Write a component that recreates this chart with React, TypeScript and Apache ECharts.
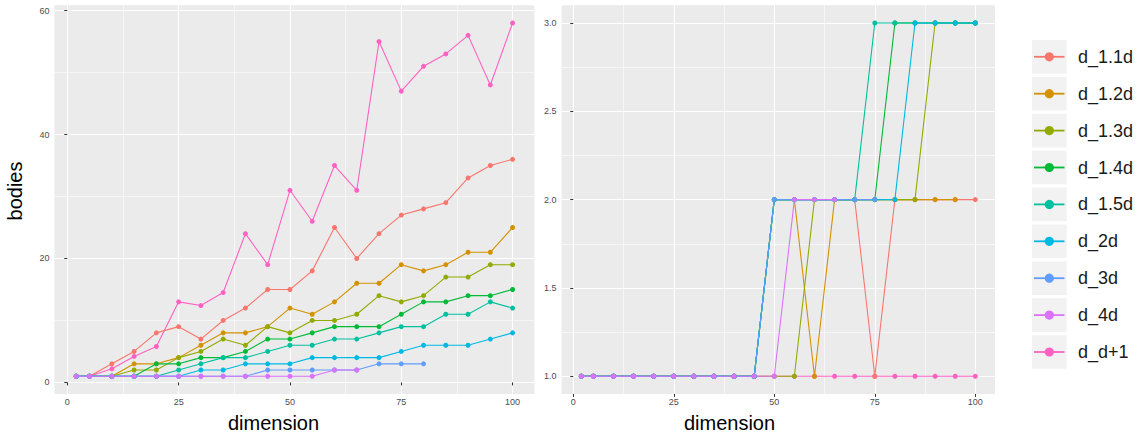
import React, { useEffect, useRef } from "react";
import * as echarts from "echarts";

// ---------- data ----------
const dimensions = [2, 5, 10, 15, 20, 25, 30, 35, 40, 45, 50, 55, 60, 65, 70, 75, 80, 85, 90, 95, 100];

const seriesNames = ["d_1.1d", "d_1.2d", "d_1.3d", "d_1.4d", "d_1.5d", "d_2d", "d_3d", "d_4d", "d_d+1"];
const seriesColors = ["#F8766D", "#D39200", "#93AA00", "#00BA38", "#00C19F", "#00B9E3", "#619CFF", "#DB72FB", "#FF61C3"];

// left panel: bodies
const d11Left = [1, 1, 3, 5, 8, 9, 7, 10, 12, 15, 15, 18, 25, 20, 24, 27, 28, 29, 33, 35, 36];
const d12Left = [1, 1, 1, 3, 3, 4, 6, 8, 8, 9, 12, 11, 13, 16, 16, 19, 18, 19, 21, 21, 25];
const d13Left = [1, 1, 1, 2, 2, 4, 5, 7, 6, 9, 8, 10, 10, 11, 14, 13, 14, 17, 17, 19, 19];
const d14Left = [1, 1, 1, 1, 3, 3, 4, 4, 5, 7, 7, 8, 9, 9, 9, 11, 13, 13, 14, 14, 15];
const d15Left = [1, 1, 1, 1, 1, 2, 3, 4, 4, 5, 6, 6, 7, 7, 8, 9, 9, 11, 11, 13, 12];
const d2Left = [1, 1, 1, 1, 1, 1, 2, 2, 3, 3, 3, 4, 4, 4, 4, 5, 6, 6, 6, 7, 8];
const d3Left = [1, 1, 1, 1, 1, 1, 1, 1, 1, 2, 2, 2, 2, 2, 3, 3, 3, null, null, null, null];
const d4Left = [1, 1, 1, 1, 1, 1, 1, 1, 1, 1, 1, 1, 2, 2, null, null, null, null, null, null, null];
const ddLeft = [1, 1, 2.2, 4.2, 5.8, 13, 12.4, 14.5, 24, 19, 31, 26, 35, 31, 55, 47, 51, 53, 56, 48, 58];

// right panel
const d11Right = [1, 1, 1, 1, 1, 1, 1, 1, 1, 1, 2, 2, 2, 2, 2, 1, 2, 2, 2, 2, 2];
const d12Right = [1, 1, 1, 1, 1, 1, 1, 1, 1, 1, 2, 2, 1, 2, 2, 2, 2, 2, 2, 2, null];
const d13Right = [1, 1, 1, 1, 1, 1, 1, 1, 1, 1, 1, 1, 2, 2, 2, 2, 2, 2, 3, 3, 3];
const d14Right = [1, 1, 1, 1, 1, 1, 1, 1, 1, 1, 2, 2, 2, 2, 2, 2, 3, 3, 3, 3, 3];
const d15Right = [1, 1, 1, 1, 1, 1, 1, 1, 1, 1, 2, 2, 2, 2, 2, 3, 3, 3, 3, 3, 3];
const d2Right = [1, 1, 1, 1, 1, 1, 1, 1, 1, 1, 2, 2, 2, 2, 2, 2, 2, 3, 3, 3, 3];
const d3Right = [1, 1, 1, 1, 1, 1, 1, 1, 1, 1, 2, 2, 2, 2, 2, 2, null, null, null, null, null];
const d4Right = [1, 1, 1, 1, 1, 1, 1, 1, 1, 1, 1, 2, 2, 2, null, null, null, null, null, null, null];
const ddRight = [1, 1, 1, 1, 1, 1, 1, 1, 1, 1, 1, 1, 1, 1, 1, 1, 1, 1, 1, 1, 1];

const leftSeries = [d11Left, d12Left, d13Left, d14Left, d15Left, d2Left, d3Left, d4Left, ddLeft];
const rightSeries = [d11Right, d12Right, d13Right, d14Right, d15Right, d2Right, d3Right, d4Right, ddRight];

// axes ticks
const xTicks = [0, 25, 50, 75, 100];
const xMinorTicks = [12.5, 37.5, 62.5, 87.5];
const leftYTicks = [0, 20, 40, 60];
const leftYMinorTicks = [10, 30, 50];
const rightYTicks = [1, 1.5, 2, 2.5, 3];
const rightYMinorTicks = [1.25, 1.75, 2.25, 2.75];

const xTitle = "dimension";
const yTitle = "bodies";

// draw order: d_d+1 first (underneath), then the rest
const drawOrder = [8, 0, 1, 2, 3, 4, 5, 6, 7];

const FONT = "Liberation Sans, Arial, Helvetica, sans-serif";

function toPairs(values: (number | null)[]) {
  const out: number[][] = [];
  dimensions.forEach((x, i) => {
    const v = values[i];
    if (v !== null && v !== undefined) out.push([x, v]);
  });
  return out;
}

function mainAxis(gridIndex: number, min: number, max: number, ticks: number[], isY: boolean, decimals: number) {
  return {
    type: "value",
    gridIndex,
    min,
    max,
    position: isY ? "left" : "bottom",
    axisLine: { show: false },
    axisTick: { show: true, length: 3, customValues: ticks, lineStyle: { color: "#333333", width: 1 } },
    axisLabel: {
      show: true,
      customValues: ticks,
      formatter: (v: number) => v.toFixed(decimals),
      color: "#4D4D4D",
      fontSize: 9,
      fontFamily: FONT,
      margin: isY ? 5 : 4,
    },
    splitLine: { show: true, lineStyle: { color: "#FFFFFF", width: 1.1 } },
  };
}

function minorAxis(gridIndex: number, min: number, max: number, ticks: number[], isY: boolean) {
  return {
    type: "value",
    gridIndex,
    min,
    max,
    position: isY ? "left" : "bottom",
    axisLine: { show: false },
    axisTick: { show: false, customValues: ticks },
    axisLabel: { show: false },
    splitLine: { show: true, lineStyle: { color: "#FFFFFF", width: 0.55 } },
  };
}

export default function App() {
  const ref = useRef<HTMLDivElement>(null);

  useEffect(() => {
    if (!ref.current) return;
    const chart = echarts.init(ref.current, undefined, { renderer: "svg" });

    const xMin = -2.9;
    const xMax = 104.9;

    const series: any[] = [];
    drawOrder.forEach((idx) => {
      series.push({
        type: "line",
        name: seriesNames[idx],
        xAxisIndex: 0,
        yAxisIndex: 0,
        data: toPairs(leftSeries[idx]),
        symbol: "circle",
        symbolSize: 5,
        showSymbol: true,
        showAllSymbol: true,
        lineStyle: { color: seriesColors[idx], width: 1.1 },
        itemStyle: { color: seriesColors[idx] },
        emphasis: { disabled: true },
        silent: true,
      });
    });
    drawOrder.forEach((idx) => {
      series.push({
        type: "line",
        name: seriesNames[idx],
        xAxisIndex: 2,
        yAxisIndex: 2,
        data: toPairs(rightSeries[idx]),
        symbol: "circle",
        symbolSize: 5,
        showSymbol: true,
        showAllSymbol: true,
        lineStyle: { color: seriesColors[idx], width: 1.1 },
        itemStyle: { color: seriesColors[idx] },
        emphasis: { disabled: true },
        silent: true,
      });
    });

    // legend drawn as graphic
    const legendEls: any[] = [];
    seriesNames.forEach((name, i) => {
      const top = 40 + i * 36.9;
      const cy = top + 16.8;
      legendEls.push({ type: "rect", shape: { x: 1032, y: top, width: 34.7, height: 33.6 }, style: { fill: "#F2F2F2" }, silent: true });
      legendEls.push({ type: "line", shape: { x1: 1034, y1: cy, x2: 1064.5, y2: cy }, style: { stroke: seriesColors[i], lineWidth: 1.8 }, silent: true });
      legendEls.push({ type: "circle", shape: { cx: 1049.3, cy, r: 4.6 }, style: { fill: seriesColors[i] }, silent: true });
      legendEls.push({
        type: "text",
        x: 1078,
        y: cy,
        style: { text: name, fontSize: 18, fontFamily: FONT, fill: "#1A1A1A", align: "left", verticalAlign: "middle" },
        silent: true,
      });
    });

    chart.setOption({
      animation: false,
      backgroundColor: "#FFFFFF",
      textStyle: { fontFamily: FONT },
      grid: [
        { left: 54.4, top: 5.3, width: 480, height: 388.6, show: true, backgroundColor: "#EBEBEB", borderWidth: 0, containLabel: false },
        { left: 561.6, top: 5.3, width: 433.4, height: 388.6, show: true, backgroundColor: "#EBEBEB", borderWidth: 0, containLabel: false },
      ],
      xAxis: [
        mainAxis(0, xMin, xMax, xTicks, false, 0),
        minorAxis(0, xMin, xMax, xMinorTicks, false),
        mainAxis(1, xMin, xMax, xTicks, false, 0),
        minorAxis(1, xMin, xMax, xMinorTicks, false),
      ],
      yAxis: [
        mainAxis(0, -1.85, 60.85, leftYTicks, true, 0),
        minorAxis(0, -1.85, 60.85, leftYMinorTicks, true),
        mainAxis(1, 0.9, 3.1, rightYTicks, true, 1),
        minorAxis(1, 0.9, 3.1, rightYMinorTicks, true),
      ],
      series,
      graphic: [
        {
          type: "text",
          x: 273.5,
          y: 423,
          style: { text: xTitle, fontSize: 20, fontFamily: FONT, fill: "#000000", align: "center", verticalAlign: "middle" },
          silent: true,
        },
        {
          type: "text",
          x: 729.5,
          y: 423,
          style: { text: xTitle, fontSize: 20, fontFamily: FONT, fill: "#000000", align: "center", verticalAlign: "middle" },
          silent: true,
        },
        {
          type: "text",
          x: 15,
          y: 191,
          rotation: Math.PI / 2,
          style: { text: yTitle, fontSize: 20, fontFamily: FONT, fill: "#000000", align: "center", verticalAlign: "middle" },
          silent: true,
        },
        ...legendEls,
      ],
    });

    return () => chart.dispose();
  }, []);

  return (
    <div
      ref={ref}
      style={{ position: "absolute", left: 0, top: 0, width: 1141, height: 436, background: "#FFFFFF" }}
    />
  );
}
